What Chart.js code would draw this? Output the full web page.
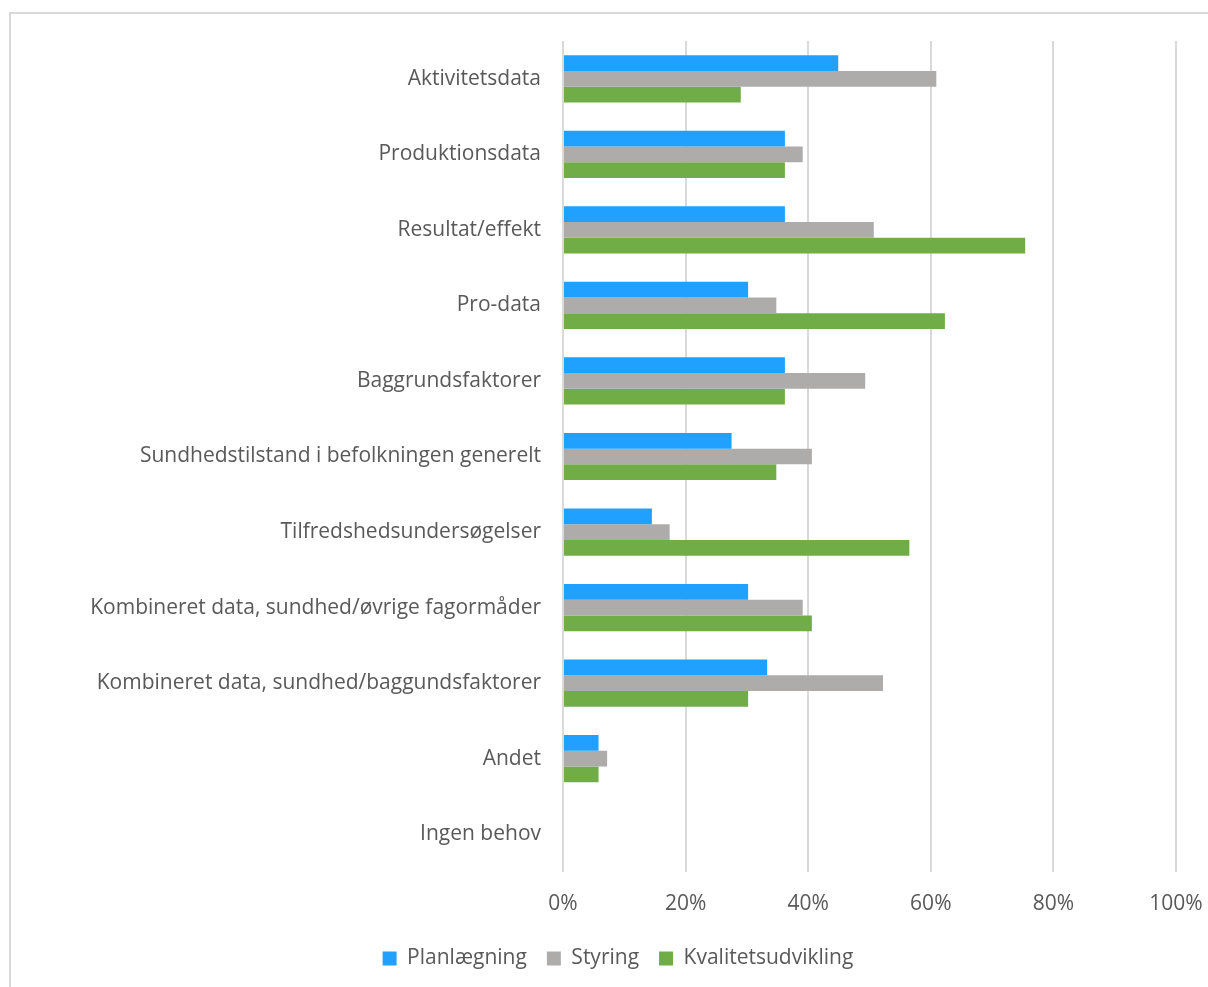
<!DOCTYPE html>
<html>
<head>
    <title>Databehov</title>
    <style>
        html, body { margin: 0; padding: 0; background: #fff; overflow: hidden; }
        .frame { position: absolute; left: 9px; top: 12px; width: 1240px; height: 1000px; border: 2px solid #d9d9d9; }
        .wrap { position: absolute; left: 0; top: 0; width: 1208px; height: 987px; }
    </style>
</head>
<body>
    <div class="frame"></div>
    <div class="wrap">
        <canvas id="needChart"></canvas>
    </div>

    <script src="https://cdn.jsdelivr.net/npm/chart.js"></script>
    <script>
        var categories = [
            'Aktivitetsdata',
            'Produktionsdata',
            'Resultat/effekt',
            'Pro-data',
            'Baggrundsfaktorer',
            'Sundhedstilstand i befolkningen generelt',
            'Tilfredshedsundersøgelser',
            'Kombineret data, sundhed/øvrige fagormåder',
            'Kombineret data, sundhed/baggundsfaktorer',
            'Andet',
            'Ingen behov'
        ];

        // share of respondents, in percent
        var planlaegning = [44.9, 36.2, 36.2, 30.2, 36.2, 27.5, 14.5, 30.2, 33.3, 5.8, 0];
        var styring = [60.9, 39.1, 50.7, 34.8, 49.3, 40.6, 17.4, 39.1, 52.2, 7.2, 0];
        var kvalitet = [29.0, 36.2, 75.4, 62.3, 36.2, 34.8, 56.5, 40.6, 30.2, 5.8, 0];

        var tickValues = [0, 20, 40, 60, 80, 100];

        var textColor = '#595959';
        var fontFamily = '"Open Sans", "Noto Sans", sans-serif';
        var fontSize = 21;
        var padLeft = 60;

        var ctx = document.getElementById('needChart').getContext('2d');
        var needChart = new Chart(ctx, {
            type: 'bar',
            data: {
                labels: categories,
                datasets: [{
                    label: 'Planlægning',
                    data: planlaegning,
                    backgroundColor: '#21a1ff'
                }, {
                    label: 'Styring',
                    data: styring,
                    backgroundColor: '#adacab'
                }, {
                    label: 'Kvalitetsudvikling',
                    data: kvalitet,
                    backgroundColor: '#70ad47'
                }]
            },
            options: {
                indexAxis: 'y',
                responsive: true,
                maintainAspectRatio: false,
                animation: false,
                categoryPercentage: 0.625,
                barPercentage: 1.0,
                layout: {
                    padding: { top: 41, right: 32, bottom: 8, left: padLeft }
                },
                font: { family: fontFamily, size: fontSize },
                plugins: {
                    tooltip: { enabled: false },
                    legend: {
                        position: 'bottom',
                        labels: {
                            color: textColor,
                            font: { family: fontFamily, size: fontSize },
                            boxWidth: 14,
                            boxHeight: 14,
                            padding: 20
                        }
                    }
                },
                scales: {
                    x: {
                        min: 0,
                        max: 100,
                        afterBuildTicks: function (scale) {
                            scale.ticks = tickValues.map(function (v) { return { value: v }; });
                        },
                        afterFit: function (scale) {
                            scale.height = 56;
                            // the end labels fit inside the layout padding
                            scale.paddingLeft = 0;
                            scale.paddingRight = 0;
                        },
                        ticks: {
                            color: textColor,
                            font: { family: fontFamily, size: fontSize },
                            padding: 19,
                            callback: function (v) { return v + '%'; }
                        },
                        grid: {
                            color: '#d9d9d9',
                            lineWidth: 2,
                            drawTicks: false
                        },
                        border: { display: false }
                    },
                    y: {
                        afterFit: function (scale) {
                            scale.width = 563 - padLeft;
                        },
                        ticks: {
                            color: textColor,
                            font: { family: fontFamily, size: fontSize },
                            padding: 22
                        },
                        grid: { display: false, drawTicks: false },
                        border: { display: false }
                    }
                }
            }
        });
    </script>
</body>
</html>
